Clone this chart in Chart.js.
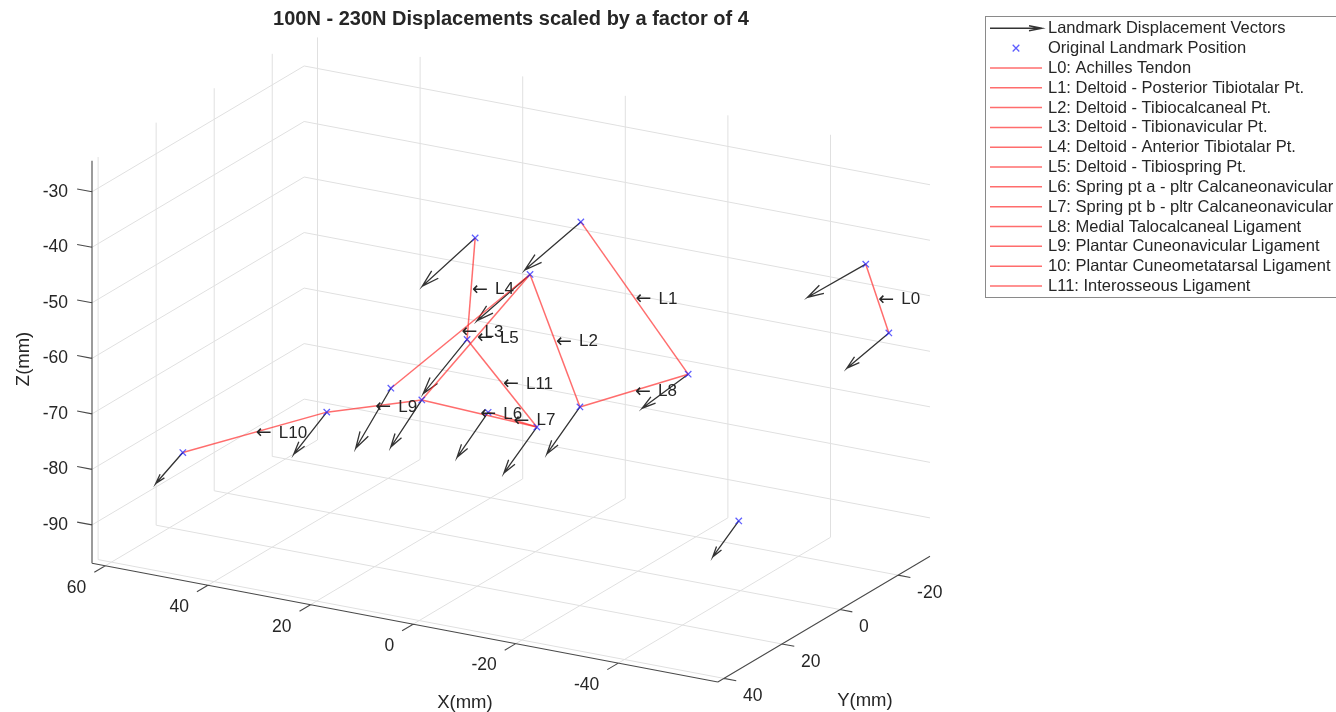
<!DOCTYPE html>
<html>
<head>
<meta charset="utf-8">
<script src="https://cdn.jsdelivr.net/npm/chart.js@4.4.1/dist/chart.umd.min.js"></script>
<style>
  html, body { margin: 0; padding: 0; background: #fff; overflow: hidden; }
  canvas { display: block; }
</style>
</head>
<body>
<canvas id="chart" width="1336" height="712"></canvas>
<script>
// ---- Landmark positions, mm ----
const landmarkX = [-53.1, -57.6, -11.7, -29.8, -1.8, -8.7, 8.9, 13.3, 22.5, 19.3, 9.2, -0.3, 35.0, 57.4, -34.0];
const landmarkY = [-20, -20, 5, 0, 5, 0, 5, 0, 10, 5, 0, 0, 10, 20, -10];
const landmarkZ = [-42.0, -53.6, -33.9, -59.7, -45.1, -69.3, -40.4, -61.0, -68.3, -71.4, -73.4, -74.4, -74.8, -82.9, -88.5];

// ---- Displacement from 100N to 230N, mm (unscaled) ----
const dispX = [3.17, 2.33, 2.56, 2.47, 2.47, 1.78, 2.35, 2.08, 1.43, 1.34, 1.40, 1.55, 1.38, 0.98, 1.38];
const dispY = [-0.6, -0.5, 0.3, -0.4, 0.2, -0.3, 0.4, 0.1, 0.5, 0.3, 0.2, 0.1, 0.4, 0.6, -0.2];
const dispZ = [-2.23, -2.15, -2.52, -2.09, -2.45, -2.52, -2.46, -2.77, -2.80, -2.26, -2.21, -2.31, -2.01, -1.38, -1.92];
const displacementScale = 4;

// ---- Ligaments: landmark index pairs ----
const ligamentTags  = ['L0', 'L1', 'L2', 'L3', 'L4', 'L5', 'L6', 'L7', 'L8', 'L9', 'L10', 'L11'];
const ligamentStart = [0, 2, 4, 4, 6, 4, 9, 10, 5, 9, 12, 7];
const ligamentEnd   = [1, 3, 5, 8, 7, 9, 11, 11, 3, 12, 13, 11];
const legendEntries = [
  'Landmark Displacement Vectors',
  'Original Landmark Position',
  'L0: Achilles Tendon',
  'L1: Deltoid - Posterior Tibiotalar Pt.',
  'L2: Deltoid - Tibiocalcaneal Pt.',
  'L3: Deltoid - Tibionavicular Pt.',
  'L4: Deltoid - Anterior Tibiotalar Pt.',
  'L5: Deltoid - Tibiospring Pt.',
  'L6: Spring pt a - pltr Calcaneonavicular',
  'L7: Spring pt b - pltr Calcaneonavicular',
  'L8: Medial Talocalcaneal Ligament',
  'L9: Plantar Cuneonavicular Ligament',
  '10: Plantar Cuneometatarsal Ligament',
  'L11: Interosseous Ligament'
];

// ---- Axes ----
const xTicks = [-40, -20, 0, 20, 40, 60];
const yTicks = [-20, 0, 20, 40];
const zTicks = [-90, -80, -70, -60, -50, -40, -30];
const xLim = [-59.4, 62.6];
const yLim = [-31.0, 42.1];
const zLim = [-96.9, -24.4];
const titleText = '100N - 230N Displacements scaled by a factor of 4';

// ---- View (azimuth / elevation, degrees), orthographic ----
const VIEW_AZ = 209.5, VIEW_EL = 19.6;
const ca = Math.cos(VIEW_AZ * Math.PI / 180), sa = Math.sin(VIEW_AZ * Math.PI / 180);
const ce = Math.cos(VIEW_EL * Math.PI / 180), se = Math.sin(VIEW_EL * Math.PI / 180);
function project(x, y, z) {
  return { x: ca * x + sa * y, y: -se * sa * x + se * ca * y + ce * z };
}

// projected extent of the axes box
let hMin = Infinity, hMax = -Infinity, wMin = Infinity, wMax = -Infinity;
for (const x of xLim) for (const y of yLim) for (const z of zLim) {
  const p = project(x, y, z);
  hMin = Math.min(hMin, p.x); hMax = Math.max(hMax, p.x);
  wMin = Math.min(wMin, p.y); wMax = Math.max(wMax, p.y);
}
// plot box placement on the canvas (equal scaling on both screen axes)
const W = 1336, H = 712;
const boxLeft = 92, boxRight = 930, boxBottom = 682;
const pxPerUnit = (boxRight - boxLeft) / (hMax - hMin);
const boxTop = boxBottom - pxPerUnit * (wMax - wMin);

// ---- Datasets ----
const FONT = '"Liberation Sans", Arial, Helvetica, sans-serif';
const TEXT = '#262626';
const ARROW_COLOR = '#333333';
const LIG_COLOR = 'rgba(255, 40, 40, 0.68)';
const MARK_COLOR = 'rgba(40, 40, 255, 0.75)';

const datasets = [];

// displacement arrows (shaft + open head drawn as one polyline)
const headFrac = 0.25, headAngle = 16 * Math.PI / 180;
for (let i = 0; i < landmarkX.length; i++) {
  const s = project(landmarkX[i], landmarkY[i], landmarkZ[i]);
  const t = project(landmarkX[i] + displacementScale * dispX[i],
                    landmarkY[i] + displacementScale * dispY[i],
                    landmarkZ[i] + displacementScale * dispZ[i]);
  const dx = t.x - s.x, dy = t.y - s.y;
  const len = Math.hypot(dx, dy);
  const ux = dx / len, uy = dy / len, hl = len * headFrac;
  const rot = (a) => ({
    x: t.x - hl * (ux * Math.cos(a) - uy * Math.sin(a)),
    y: t.y - hl * (ux * Math.sin(a) + uy * Math.cos(a))
  });
  datasets.push({
    data: [s, t, rot(headAngle), t, rot(-headAngle)],
    showLine: true, borderColor: ARROW_COLOR, borderWidth: 1.3,
    pointRadius: 0, tension: 0, clip: false, order: 3
  });
}

// ligaments
for (let k = 0; k < ligamentTags.length; k++) {
  const a = ligamentStart[k], b = ligamentEnd[k];
  datasets.push({
    data: [project(landmarkX[a], landmarkY[a], landmarkZ[a]),
           project(landmarkX[b], landmarkY[b], landmarkZ[b])],
    showLine: true, borderColor: LIG_COLOR, borderWidth: 1.5,
    pointRadius: 0, tension: 0, clip: false, order: 2
  });
}

// landmark markers
datasets.push({
  data: landmarkX.map((x, i) => project(x, landmarkY[i], landmarkZ[i])),
  showLine: false, pointStyle: 'crossRot', pointRadius: 4.5,
  borderColor: MARK_COLOR, backgroundColor: MARK_COLOR, pointBorderWidth: 1.3,
  clip: false, order: 1
});

// ---- Axis box, grid, ticks and labels ----
const axesPlugin = {
  id: 'axes3d',
  beforeDatasetsDraw(chart) {
    const ctx = chart.ctx, xs = chart.scales.x, ys = chart.scales.y;
    const P = (x, y, z) => { const p = project(x, y, z); return [xs.getPixelForValue(p.x), ys.getPixelForValue(p.y)]; };
    const seg = (a, b) => { ctx.moveTo(a[0], a[1]); ctx.lineTo(b[0], b[1]); };
    const [x0, x1] = xLim, [y0, y1] = yLim, [z0, z1] = zLim;

    ctx.save();
    // grid on the far walls and floor
    ctx.strokeStyle = '#e0e0e0';
    ctx.lineWidth = 1;
    ctx.beginPath();
    for (const xt of xTicks) { seg(P(xt, y0, z0), P(xt, y1, z0)); seg(P(xt, y0, z0), P(xt, y0, z1)); }
    for (const yt of yTicks) { seg(P(x0, yt, z0), P(x1, yt, z0)); seg(P(x1, yt, z0), P(x1, yt, z1)); }
    for (const zt of zTicks) { seg(P(x1, y0, zt), P(x1, y1, zt)); seg(P(x0, y0, zt), P(x1, y0, zt)); }
    ctx.stroke();

    // axis lines and tick marks
    ctx.strokeStyle = '#4a4a4a';
    ctx.lineWidth = 1.1;
    ctx.beginPath();
    seg(P(x0, y1, z0), P(x1, y1, z0));
    seg(P(x0, y0, z0), P(x0, y1, z0));
    seg(P(x1, y1, z0), P(x1, y1, z1));
    for (const xt of xTicks) seg(P(xt, y1, z0), P(xt, y1 + 3.8, z0));
    for (const yt of yTicks) seg(P(x0, yt, z0), P(x0 - 2.4, yt, z0));
    for (const zt of zTicks) seg(P(x1, y1, zt), P(x1 + 2.9, y1, zt));
    ctx.stroke();

    // tick labels
    ctx.fillStyle = TEXT;
    ctx.font = `17.5px ${FONT}`;
    ctx.textBaseline = 'middle';
    ctx.textAlign = 'right';
    for (const xt of xTicks) { const p = P(xt, y1, z0); ctx.fillText(String(xt), p[0] - 19, p[1] + 22); }
    ctx.textAlign = 'left';
    for (const yt of yTicks) { const p = P(x0, yt, z0); ctx.fillText(String(yt), p[0] + 19, p[1] + 18); }
    ctx.textAlign = 'right';
    for (const zt of zTicks) { const p = P(x1, y1, zt); ctx.fillText(String(zt), p[0] - 24, p[1]); }

    // axis titles
    ctx.font = `18.5px ${FONT}`;
    ctx.textAlign = 'center';
    const xm = P((x0 + x1) / 2, y1, z0);
    ctx.fillText('X(mm)', xm[0] + 60, xm[1] + 80);
    const ym = P(x0, (y0 + y1) / 2, z0);
    ctx.fillText('Y(mm)', ym[0] + 41, ym[1] + 81.5);
    const zm = P(x1, y1, (z0 + z1) / 2);
    ctx.save();
    ctx.translate(zm[0] - 68, zm[1] - 3);
    ctx.rotate(-Math.PI / 2);
    ctx.fillText('Z(mm)', 0, 0);
    ctx.restore();

    // title
    ctx.font = `bold 20px ${FONT}`;
    ctx.fillText(titleText, (chart.chartArea.left + chart.chartArea.right) / 2, 19);
    ctx.restore();
  },
  afterDatasetsDraw(chart) {
    // "← Lk" tags at each ligament midpoint
    const ctx = chart.ctx, xs = chart.scales.x, ys = chart.scales.y;
    ctx.save();
    ctx.fillStyle = TEXT;
    ctx.textBaseline = 'middle';
    ctx.textAlign = 'left';
    for (let k = 0; k < ligamentTags.length; k++) {
      const a = ligamentStart[k], b = ligamentEnd[k];
      const m = project((landmarkX[a] + landmarkX[b]) / 2, (landmarkY[a] + landmarkY[b]) / 2, (landmarkZ[a] + landmarkZ[b]) / 2);
      const px = xs.getPixelForValue(m.x), py = ys.getPixelForValue(m.y);
      ctx.font = '19px "DejaVu Sans", sans-serif';
      ctx.fillText('\u2190', px + 1, py + 1);
      ctx.font = `17px ${FONT}`;
      ctx.fillText(ligamentTags[k], px + 24, py + 1);
    }
    ctx.restore();
  }
};

// ---- Legend box ----
const legendPlugin = {
  id: 'legendBox',
  afterDraw(chart) {
    const ctx = chart.ctx;
    const left = 985, top = 16, bottom = 297, right = W + 4;
    const rowTop = 28.3, rowStep = 19.82;
    const lineX0 = 990, lineX1 = 1042, textX = 1048;
    ctx.save();
    ctx.fillStyle = '#fff';
    ctx.fillRect(left, top, right - left, bottom - top);
    ctx.strokeStyle = '#8a8a8a';
    ctx.lineWidth = 1;
    ctx.strokeRect(left + 0.5, top + 0.5, right - left, bottom - top);

    legendEntries.forEach((label, i) => {
      const y = rowTop + i * rowStep;
      if (i === 0) {
        ctx.strokeStyle = ARROW_COLOR; ctx.lineWidth = 1.4;
        ctx.beginPath();
        ctx.moveTo(lineX0, y); ctx.lineTo(lineX1, y);
        ctx.moveTo(lineX1 - 13, y - 2.5); ctx.lineTo(lineX1, y); ctx.lineTo(lineX1 - 13, y + 2.5);
        ctx.stroke();
      } else if (i === 1) {
        const cx = (lineX0 + lineX1) / 2, r = 3.3;
        ctx.strokeStyle = MARK_COLOR; ctx.lineWidth = 1.3;
        ctx.beginPath();
        ctx.moveTo(cx - r, y - r); ctx.lineTo(cx + r, y + r);
        ctx.moveTo(cx - r, y + r); ctx.lineTo(cx + r, y - r);
        ctx.stroke();
      } else {
        ctx.strokeStyle = LIG_COLOR; ctx.lineWidth = 1.5;
        ctx.beginPath(); ctx.moveTo(lineX0, y); ctx.lineTo(lineX1, y); ctx.stroke();
      }
      ctx.fillStyle = TEXT;
      ctx.font = `16.5px ${FONT}`;
      ctx.textBaseline = 'middle';
      ctx.textAlign = 'left';
      ctx.fillText(label, textX, y + 0.5);
    });
    ctx.restore();
  }
};

new Chart(document.getElementById('chart'), {
  type: 'scatter',
  data: { datasets },
  options: {
    responsive: false,
    animation: false,
    events: [],
    layout: { padding: { left: boxLeft, right: W - boxRight, top: boxTop, bottom: H - boxBottom } },
    scales: {
      x: { type: 'linear', display: false, min: hMin, max: hMax },
      y: { type: 'linear', display: false, min: wMin, max: wMax }
    },
    plugins: { legend: { display: false }, tooltip: { enabled: false }, title: { display: false } }
  },
  plugins: [axesPlugin, legendPlugin]
});
</script>
</body>
</html>
